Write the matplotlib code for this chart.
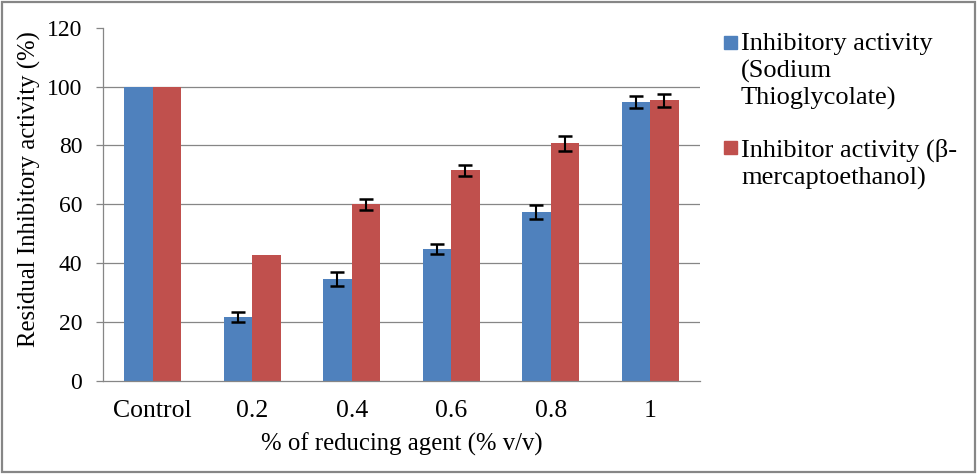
import matplotlib.pyplot as plt
from matplotlib.patches import Rectangle
import numpy as np

plt.rcParams['font.family'] = ['Liberation Serif', 'DejaVu Serif']

categories = ['Control', '0.2', '0.4', '0.6', '0.8', '1']
thioglycolate = [100, 21.8, 34.6, 44.8, 57.3, 94.7]
thioglycolate_err = [None, 1.7, 2.3, 1.8, 2.4, 2.0]
mercapto = [100, 42.7, 60.0, 71.5, 80.7, 95.3]
mercapto_err = [None, None, 1.8, 1.9, 2.6, 2.2]

blue = '#4F81BD'
red = '#C0504D'
grey = '#868686'

fig = plt.figure(figsize=(9.78, 4.74), dpi=100)
ax = fig.add_axes([0.1053, 0.1962, 0.6104, 0.7454])

x = np.arange(len(categories)) + 0.5
w = 0.286
ax.bar(x - w / 2, thioglycolate, w, color=blue, zorder=2)
ax.bar(x + w / 2, mercapto, w, color=red, zorder=2)

## error bars only where the reference shows them
for xs, vals, errs in [(x - w / 2, thioglycolate, thioglycolate_err),
                       (x + w / 2, mercapto, mercapto_err)]:
    idx = [i for i, e in enumerate(errs) if e is not None]
    ax.errorbar(xs[idx], [vals[i] for i in idx], yerr=[errs[i] for i in idx],
                fmt='none', ecolor='black', elinewidth=1.5, capsize=5,
                capthick=1.8, zorder=3)

ax.set_xlim(0, len(categories))
ax.set_ylim(0, 120)
ax.set_yticks(range(0, 121, 20))
ax.set_xticks(x)
ax.set_xticklabels(categories)
for yv in range(20, 101, 20):
    ax.axhline(yv, color=grey, lw=0.9, zorder=1)

for s in ['top', 'right']:
    ax.spines[s].set_visible(False)
for s in ['left', 'bottom']:
    ax.spines[s].set_color(grey)
    ax.spines[s].set_linewidth(0.9)
ax.tick_params(axis='y', length=5, color=grey, width=0.9, pad=10, labelsize=17)
ax.tick_params(axis='x', length=0, pad=14, labelsize=18.5)

ax.set_ylabel('Residual Inhibitory activity (%)', fontsize=17.8)
ax.yaxis.set_label_coords(-0.104, 0.543)
ax.set_xlabel('% of reducing agent (% v/v)', fontsize=17.8, labelpad=7)

## legend drawn by hand so the squares sit level with the first line
legend_items = [(blue, 'Inhibitory activity\n(Sodium\nThioglycolate)', 0.8966, 0.930),
                (red, 'Inhibitor activity (\u03b2-\nmercaptoethanol)', 0.675, 0.707)]
for col, label, ysq, ytop in legend_items:
    fig.patches.append(Rectangle((724 / 978, ysq), 13 / 978, 13 / 474,
                                 transform=fig.transFigure, color=col))
    fig.text(741 / 978, ytop, label, fontsize=19, va='top', ha='left',
             linespacing=1.25, family=['Liberation Serif', 'DejaVu Serif'])

fig.patches.append(Rectangle((0.002, 0.004), 0.995, 0.992, transform=fig.transFigure,
                             fill=False, edgecolor=grey, lw=1.6))

fig.savefig('out.png', dpi=100)
